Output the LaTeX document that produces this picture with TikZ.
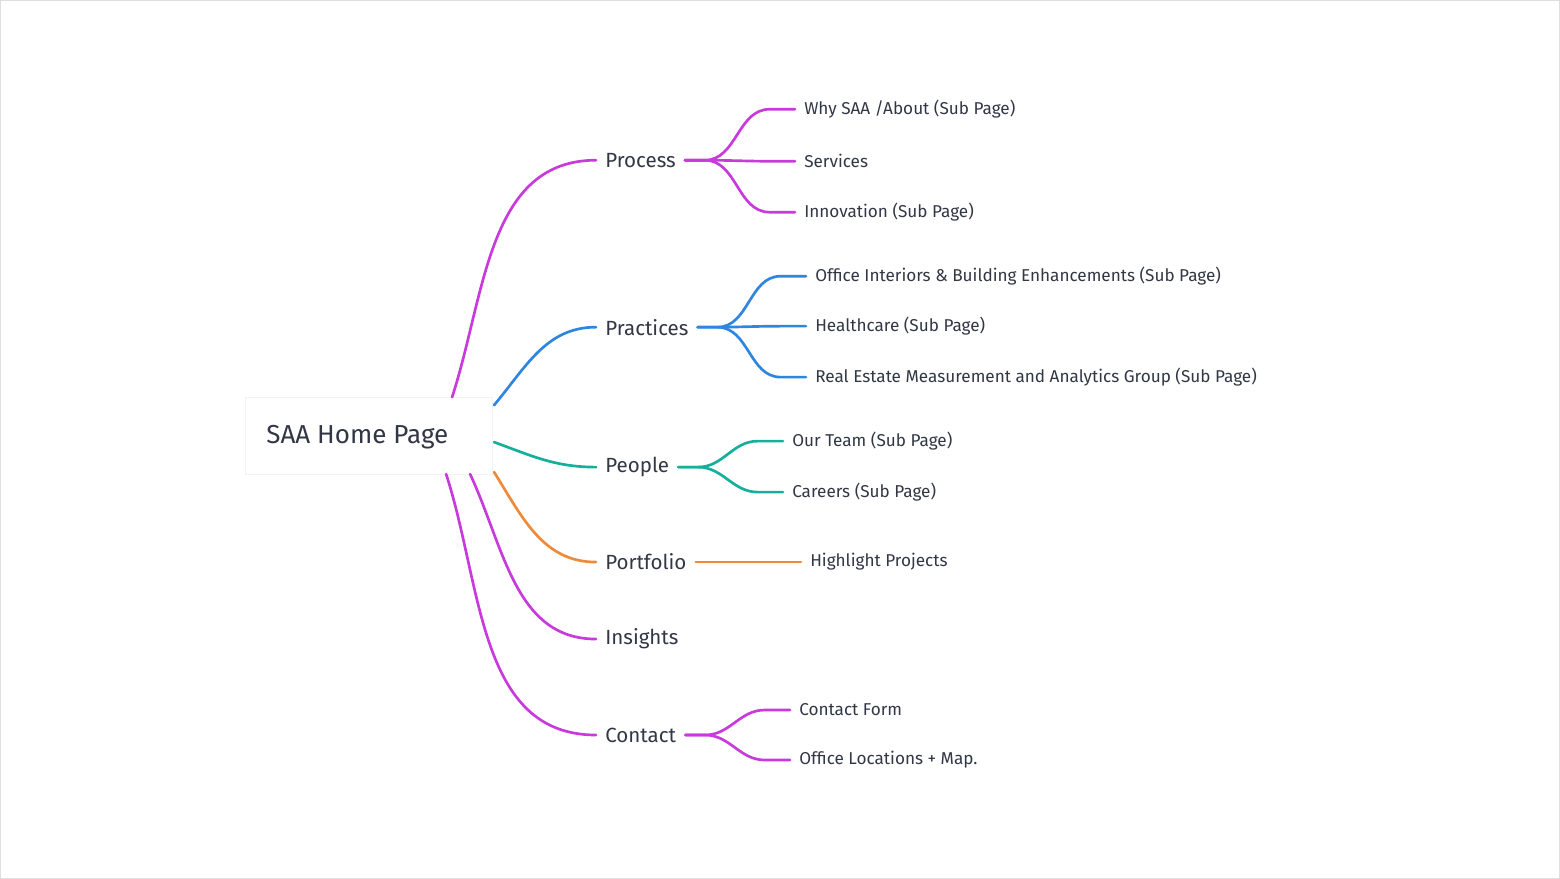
\documentclass[tikz,border=0pt]{standalone}
\usepackage{fontspec}
\setmainfont{Fira Sans}
\usetikzlibrary{positioning}
\definecolor{magentaline}{RGB}{200,58,220}
\definecolor{blueline}{RGB}{46,134,222}
\definecolor{tealline}{RGB}{20,176,154}
\definecolor{orangeline}{RGB}{238,138,60}
\definecolor{textgray}{RGB}{50,55,70}
\tikzset{
  topic/.style={anchor=west, inner xsep=6.4pt, inner ysep=2pt, text=textgray, font=\fontsize{14.6}{17}\selectfont},
  leaf/.style={anchor=west, inner xsep=6.4pt, inner ysep=2pt, text=textgray, font=\fontsize{12.2}{14}\selectfont},
  branch/.style={line width=1.9pt, line cap=round},
  twig/.style={line width=1.9pt, line cap=round}
}
\begin{document}
\begin{tikzpicture}[x=0.025cm, y=-0.025cm]
\draw[gray!25, fill=white] (0,0) rectangle (1560,878);
\useasboundingbox (0,0) rectangle (1560,878);

% root
\node[draw=gray!10, fill=white, minimum width=248*0.709pt, minimum height=77*0.709pt] (root) at (369,435.5) {};
\node[font=\fontsize{18.5}{22}\selectfont, text=textgray, anchor=west, inner sep=0pt] (roottext) at (266,437) {SAA Home Page};

% first level
\node[topic] (process) at (596,160) {Process};
\node[topic] (practices) at (596,327) {Practices};
\node[topic] (people) at (596,467) {People};
\node[topic] (portfolio) at (596,562) {Portfolio};
\node[topic] (insights) at (596,639) {Insights};
\node[topic] (contact) at (596,735) {Contact};

\coordinate (s1) at (452,397);
\coordinate (s2) at (494,405);
\coordinate (s3) at (494,442);
\coordinate (s4) at (494,472);
\coordinate (s5) at (470,474);
\coordinate (s6) at (446,474);

\draw[branch, magentaline] (s1) to[out=72, in=180] (process.west);
\draw[branch, blueline] (s2) to[out=50, in=180] (practices.west);
\draw[branch, tealline] (s3) to[out=-20, in=180] (people.west);
\draw[branch, orangeline] (s4) to[out=-58, in=180] (portfolio.west);
\draw[branch, magentaline] (s5) to[out=-65, in=180] (insights.west);
\draw[branch, magentaline] (s6) to[out=-72, in=180] (contact.west);

% leaves
\node[leaf] (why) at (795,109) {Why SAA /About (Sub Page)};
\node[leaf] (services) at (795,161) {Services};
\node[leaf] (innovation) at (795,212) {Innovation (Sub Page)};
\node[leaf] (interiors) at (806,276) {Office Interiors \& Building Enhancements (Sub Page)};
\node[leaf] (health) at (806,326) {Healthcare (Sub Page)};
\node[leaf] (realestate) at (806,377) {Real Estate Measurement and Analytics Group (Sub Page)};
\node[leaf] (team) at (783,441) {Our Team (Sub Page)};
\node[leaf] (careers) at (783,492) {Careers (Sub Page)};
\node[leaf] (highlight) at (801,562) {Highlight Projects};
\node[leaf] (form) at (790,710) {Contact Form};
\node[leaf] (offices) at (790,760) {Office Locations + Map.};

\foreach \p/\c/\col in {process/why/magentaline, process/services/magentaline, process/innovation/magentaline,
  practices/interiors/blueline, practices/health/blueline, practices/realestate/blueline,
  people/team/tealline, people/careers/tealline, portfolio/highlight/orangeline,
  contact/form/magentaline, contact/offices/magentaline}
  \draw[twig, \col] (\p.east) -- ++(14pt,0) to[out=0, in=180] ([xshift=-18pt]\c.west) -- (\c.west);
\end{tikzpicture}
\end{document}
